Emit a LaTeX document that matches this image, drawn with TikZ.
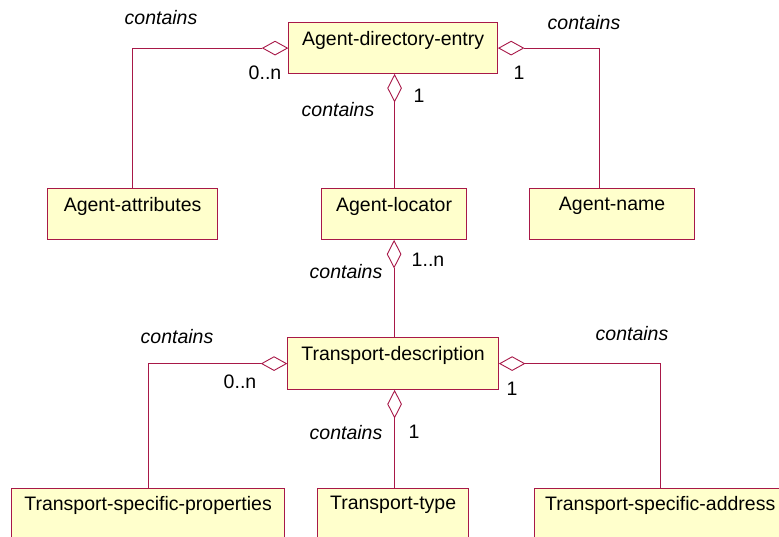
\documentclass[tikz,border=0pt]{standalone}
\usepackage{fontspec}
\setmainfont{Liberation Sans}
\usetikzlibrary{shapes.geometric}
\definecolor{umlline}{RGB}{168,24,72}
\definecolor{umlfill}{RGB}{255,255,204}
\tikzset{
  classbox/.style={draw=umlline, fill=umlfill, line width=1.2pt, rectangle, inner sep=0pt, anchor=north west},
  classname/.style={inner sep=0pt, font=\fontsize{19.5}{23}\selectfont},
  hdiam/.style={draw=umlline, fill=white, line width=0.9pt, diamond, inner sep=0pt, minimum width=25pt, minimum height=14pt},
  vdiam/.style={draw=umlline, fill=white, line width=0.9pt, diamond, inner sep=0pt, minimum width=14pt, minimum height=27pt},
  assoc/.style={draw=umlline, line width=0.9pt},
  role/.style={inner sep=0pt, font=\fontsize{19.5}{23}\selectfont\itshape},
  mult/.style={inner sep=0pt, font=\fontsize{19.5}{23}\selectfont},
}
\begin{document}
\begin{tikzpicture}[x=1pt, y=-1pt]
\useasboundingbox (0,0) rectangle (779,537);
\clip (0,0) rectangle (779,537);

% classes
\node[classbox, minimum width=209pt, minimum height=51pt] (ade) at (288,22) {};
\node[classname] at ([yshift=-18pt]ade.north) {Agent-directory-entry};

\node[classbox, minimum width=170pt, minimum height=51pt] (aa) at (47,188) {};
\node[classname] at ([yshift=-18pt]aa.north) {Agent-attributes};

\node[classbox, minimum width=145pt, minimum height=51pt] (al) at (321,188) {};
\node[classname] at ([yshift=-18pt]al.north) {Agent-locator};

\node[classbox, minimum width=165pt, minimum height=51pt] (an) at (529,188) {};
\node[classname] at ([yshift=-18pt]an.north) {Agent-name};

\node[classbox, minimum width=211pt, minimum height=52pt] (td) at (287,337) {};
\node[classname] at ([yshift=-18pt]td.north) {Transport-description};

\node[classbox, minimum width=273pt, minimum height=60pt] (tsp) at (11,488) {};
\node[classname] at ([yshift=-17pt]tsp.north) {Transport-specific-properties};

\node[classbox, minimum width=151pt, minimum height=60pt] (tt) at (317,488) {};
\node[classname] at ([yshift=-17pt]tt.north) {Transport-type};

\node[classbox, minimum width=252pt, minimum height=60pt] (tsa) at (534,488) {};
\node[classname, anchor=west] at ([xshift=11pt,yshift=-17pt]tsa.north west) {Transport-specific-address};

% aggregation diamonds
\node[hdiam, anchor=east] (d1) at (ade.west) {};
\node[hdiam, anchor=west] (d2) at (ade.east) {};
\node[vdiam, anchor=north] (d3) at ([xshift=1.5pt]ade.south) {};
\node[vdiam, anchor=north] (d4) at (al.south) {};
\node[hdiam, anchor=east] (d5) at (td.west) {};
\node[hdiam, anchor=west] (d6) at (td.east) {};
\node[vdiam, anchor=north] (d7) at ([xshift=1.5pt]td.south) {};

% associations
\draw[assoc] (d1.west) -| (aa.north);
\draw[assoc] (d2.east) -| ([xshift=-13pt]an.north);
\draw[assoc] (d3.south) -- (d3.south |- al.north);
\draw[assoc] (d4.south) -- (d4.south |- td.north);
\draw[assoc] (d5.west) -| (tsp.north);
\draw[assoc] (d6.east) -| (tsa.north);
\draw[assoc] (d7.south) -- (d7.south |- tt.north);

% role names and multiplicities
\node[role] (r1) at (161,18) {contains};
\node[mult] (m1) at (265,73) {0..n};
\node[role] (r2) at (584,23) {contains};
\node[mult] (m2) at (519,73) {1};
\node[role] (r3) at (338,110) {contains};
\node[mult] (m3) at (419,96) {1};
\node[role] (r4) at (346,272) {contains};
\node[mult] (m4) at (428,260) {1..n};
\node[role] (r5) at (177,337) {contains};
\node[mult] (m5) at (240,382) {0..n};
\node[role] (r6) at (632,334) {contains};
\node[mult] (m6) at (512,389) {1};
\node[role] (r7) at (346,433) {contains};
\node[mult] (m7) at (414,432) {1};
\end{tikzpicture}
\end{document}
